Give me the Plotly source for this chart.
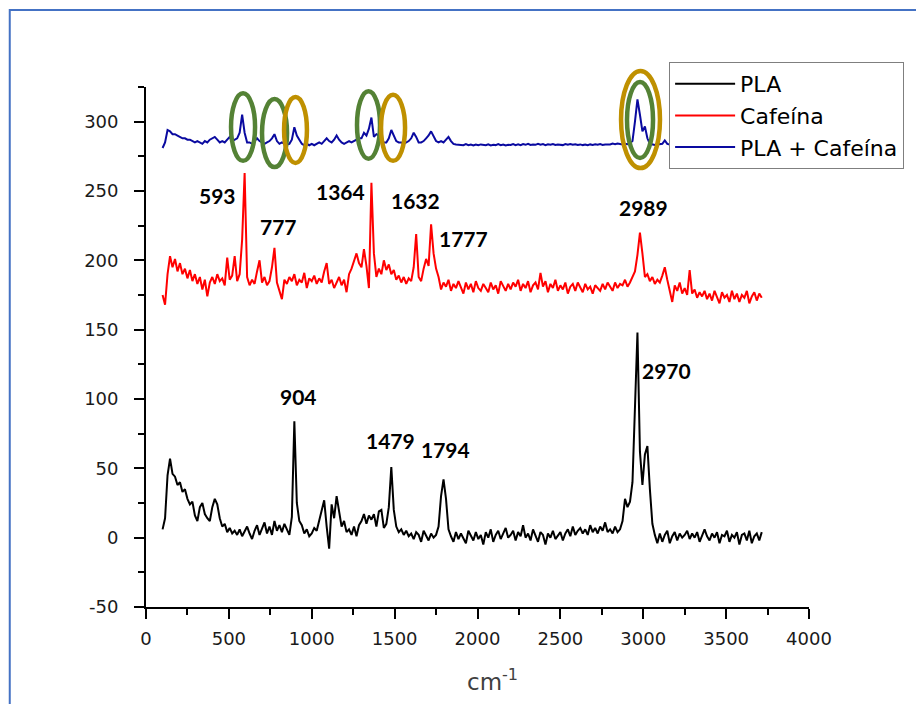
import plotly.graph_objects as go

# Raman shift sampling (cm-1)
WAVENUMBER = list(range(100, 3730, 15))

PLA = [
    6, 14, 45, 57, 46, 44, 38, 40, 33, 35,
    28, 24, 26, 16, 12, 22, 25, 17, 14, 12,
    22, 28, 24, 14, 8, 10, 4, 7, 3, 5,
    2, 6, 1, 4, 8, 3, -1, 5, 9, 2,
    6, 11, 3, 8, 2, 12, 5, 9, 4, 10,
    6, 2, 15, 84, 25, 12, 9, 3, 6, 1,
    3, 7, 5, 12, 18, 27, 8, -8, 24, 14,
    30, 18, 8, 12, 4, 6, 2, 8, 1, 9,
    12, 17, 10, 16, 13, 17, 8, 19, 20, 7,
    10, 22, 51, 20, 8, 4, 6, 2, 5, 1,
    3, -1, 4, 2, -3, 5, 1, -2, 3, 0,
    2, 8, 30, 42, 28, 6, 1, -3, 4, -1,
    3, 0, -4, 5, 1, -2, 4, -1, 2, -5,
    4, 0, 6, -3, 2, 5, -1, 3, 7, 0,
    2, 5, -2, 4, 1, 9, 0, 3, -2, 6,
    1, -3, 4, 2, -5, 3, 0, 5, -1, 2,
    4, -2, 3, 6, 1, 8, 2, 5, 7, 3,
    6, 2, 9, 4, 7, 3, 8, 5, 11, 4,
    6, 3, 8, 4, 6, 12, 28, 22, 26, 40,
    95, 148, 62, 38, 60, 66, 35, 10, 2, -4,
    3, -3, 2, 5, -4, 1, 4, -2, 3, 0,
    2, 5, -1, 3, 0, 4, -3, 2, 6, 1,
    -2, 3, 0, 4, -4, 2, 1, 5, -3, 2,
    0, 4, -5, 2, 3, -2, 5, -4, 1, 3,
    -2, 4,
]

CAFEINA = [
    175, 168, 190, 203, 195, 201, 192, 198, 190, 194,
    187, 193, 185, 190, 183, 188, 179, 186, 174, 184,
    188, 183, 190, 185, 187, 182, 202, 186, 189, 203,
    185, 190, 215, 263, 188, 182, 186, 183, 192, 200,
    184, 188, 182, 185, 195, 209, 184, 178, 172, 186,
    183, 188, 185, 190, 182, 186, 184, 191, 180, 187,
    185, 189, 183, 187, 184, 192, 198, 183, 186, 180,
    184, 188, 182, 186, 177, 190, 194, 199, 205, 198,
    195, 208, 196, 180, 256, 205, 188, 194, 190, 200,
    193, 197, 190, 193, 186, 189, 184, 188, 183, 187,
    185, 195, 219, 188, 185, 194, 201, 196, 226, 205,
    194, 188, 179, 184, 181, 186, 178, 183, 180, 185,
    181, 176, 184, 179, 183, 177, 185, 180, 178, 183,
    180, 177, 184, 179, 182, 176, 185, 181, 178, 183,
    179, 184, 181, 186, 178, 183, 180, 185, 177, 182,
    184, 179, 191, 181, 185, 177, 183, 180, 186, 178,
    182, 179, 184, 176, 181, 183, 178, 184, 180, 177,
    183, 179, 181, 176, 182, 180, 178, 183, 179, 184,
    181, 178, 184, 180, 183, 182, 186, 181, 184, 188,
    192, 204, 220, 205, 188, 190, 185, 188, 183, 186,
    184, 189, 195, 186, 178, 170, 182, 178, 184, 176,
    180, 175, 193, 176, 179, 173, 177, 174, 178, 172,
    176, 171, 178, 174, 169, 177, 173, 175, 170, 178,
    172, 176, 170, 175, 173, 178, 169, 174, 177, 171,
    176, 173,
]

PLA_CAFEINA = [
    281, 285, 294, 293, 291, 291, 290, 289, 288, 288,
    287, 287, 286, 285, 286, 285, 284, 286, 285, 287,
    288, 289, 287, 285, 286, 285, 287, 289, 286, 287,
    288, 292, 305, 292, 285, 285, 284, 286, 288, 286,
    285, 284, 285, 286, 288, 291, 286, 284, 285, 284,
    283.5, 284, 287, 296, 290, 287, 284, 283, 284, 283,
    284, 283, 284, 285, 284, 286, 288, 286, 285, 287,
    290, 287, 285, 284, 285, 286, 285, 286, 287, 288,
    288, 292, 290, 295, 303, 289, 291, 290, 286, 285,
    285, 288, 294, 290, 286, 285, 285, 284, 285, 286,
    288, 292, 289, 285, 285, 286, 288, 290, 293, 289,
    286, 285, 286, 285, 287, 289, 286, 284, 283.5, 283.5,
    283.5, 283, 283.8, 283, 283.5, 282.8, 283.5, 283, 283.6, 283.2,
    283, 283.7, 282.9, 283.4, 283.1, 283.8, 283, 283.5, 282.8, 283.4,
    283.2, 283.9, 283.1, 283.6, 283, 283.8, 283.3, 284, 283.2, 283.6,
    283.3, 284, 283.4, 283.8, 283.1, 283.7, 283.4, 283.9, 283.2, 283.6,
    283.5, 283.1, 283.8, 283.3, 283.9, 283.4, 283.7, 283.2, 283.6, 283.1,
    283.5, 283, 283.6, 283.2, 283.7, 283.3, 283.8, 283.2, 283.6, 283.4,
    283.6, 284.2, 283.8, 284.3, 283.9, 283.6, 284, 283.7, 284.5, 286,
    300, 316, 305, 293, 296.5, 288, 284, 283.5, 283.2, 283.5,
    283.6, 284, 286.5, 284, 283.5, 283.2, 283.7, 283.3, 283.6, 283.1,
    283.4, 283.8, 283.2, 283.6, 283.1, 283.7, 283.3, 283.9, 283.2, 283.5,
    283.8, 283.1, 283.6, 283.3, 283.9, 283.2, 283.5, 283.1, 283.7, 283.4,
    283.2, 283.7, 283.4, 283.9, 283.3, 283.6, 283.1, 283.8, 283.4, 283.6,
    283.3, 283.5,
]

SERIES_NAMES = ["PLA", "Cafeína", "PLA + Cafeína"]

PEAK_LABELS = ["593", "777", "1364", "1632", "1777", "2989", "2970", "904", "1479", "1794"]
PEAK_LABEL_X = [434, 799, 1173, 1623, 1918, 3004, 3143, 923, 1478, 1807]
PEAK_LABEL_Y = [246.8, 224.4, 250, 242.8, 215.7, 238.1, 120.5, 101.7, 70, 63.5]

X_TICKS = [0, 500, 1000, 1500, 2000, 2500, 3000, 3500, 4000]
Y_TICKS = [-50, 0, 50, 100, 150, 200, 250, 300]
Y_TICK_TEXT = ["-50", "0", "50", "100", "150", "200", "250", "300"]

assert len(WAVENUMBER) == len(PLA) == len(CAFEINA) == len(PLA_CAFEINA), (
    len(WAVENUMBER), len(PLA), len(CAFEINA), len(PLA_CAFEINA))

# highlight ellipses: (x0, x1 in cm-1, y0, y1 in paper fraction, colour)
GREEN = "#548235"
GOLD = "#BF9000"
ELLIPSES = [
    (513, 658, 0.858, 0.988, GREEN),
    (700, 851, 0.846, 0.977, GREEN),
    (833, 971, 0.854, 0.981, GOLD),
    (1273, 1412, 0.862, 0.992, GREEN),
    (1418, 1563, 0.858, 0.985, GOLD),
    (2866, 3101, 0.844, 1.031, GOLD),
    (2902, 3059, 0.8635, 1.0096, GREEN),
]

fig = go.Figure()
colors = ["#000000", "#FF0000", "#0A0AA0"]
for name, ys, c in zip(SERIES_NAMES, [PLA, CAFEINA, PLA_CAFEINA], colors):
    fig.add_trace(go.Scatter(x=WAVENUMBER, y=ys, mode="lines", name=name,
                             line=dict(color=c, width=2)))

shapes = []
for x0, x1, y0, y1, col in ELLIPSES:
    shapes.append(dict(type="circle", xref="x", yref="paper", x0=x0, x1=x1,
                       y0=y0, y1=y1, line=dict(color=col, width=4.5),
                       fillcolor="rgba(0,0,0,0)", layer="above"))
# outer blue frame
shapes.append(dict(type="rect", xref="paper", yref="paper", x0=-0.2055, x1=1.3,
                   y0=-0.4, y1=1.148, line=dict(color="#4472C4", width=2)))

annotations = []
for t, x, y in zip(PEAK_LABELS, PEAK_LABEL_X, PEAK_LABEL_Y):
    annotations.append(dict(x=x, y=y, xref="x", yref="y", text=t, showarrow=False,
                            font=dict(family="Lato", size=21, color="#000000",
                                      weight="bold")))
annotations.append(dict(x=0.522, y=-0.173, xref="paper", yref="paper",
                        text="cm<sup>-1</sup>", showarrow=False,
                        font=dict(family="DejaVu Sans", size=23, color="#404040")))

axis_common = dict(showline=True, linecolor="#000000", linewidth=1.8,
                   ticks="outside", ticklen=10, tickwidth=1.8, tickcolor="#000000",
                   showgrid=False, zeroline=False, mirror=False,
                   tickfont=dict(family="DejaVu Sans", size=18, color="#1a1a1a"))

fig.update_layout(
    width=924, height=704,
    margin=dict(l=138, r=123, t=79, b=105),
    paper_bgcolor="white", plot_bgcolor="white",
    xaxis=dict(range=[0, 4000], tickvals=X_TICKS, ticklabelstandoff=4,
               minor=dict(ticks="outside", ticklen=6, tickwidth=1.8,
                          tickcolor="#000000", dtick=250, tick0=0),
               **axis_common),
    yaxis=dict(range=[-50, 325], tickvals=Y_TICKS, ticktext=Y_TICK_TEXT,
               ticklabelstandoff=12,
               minor=dict(ticks="outside", ticklen=6, tickwidth=1.8,
                          tickcolor="#000000", dtick=25, tick0=0),
               **axis_common),
    legend=dict(x=0.789, y=1.048, xanchor="left", yanchor="top",
                bgcolor="white", bordercolor="#7f7f7f", borderwidth=1,
                font=dict(family="DejaVu Sans", size=22, color="#000000"),
                tracegroupgap=0, itemwidth=60),
    shapes=shapes,
    annotations=annotations,
    showlegend=True,
)

fig.write_html("out.html")
